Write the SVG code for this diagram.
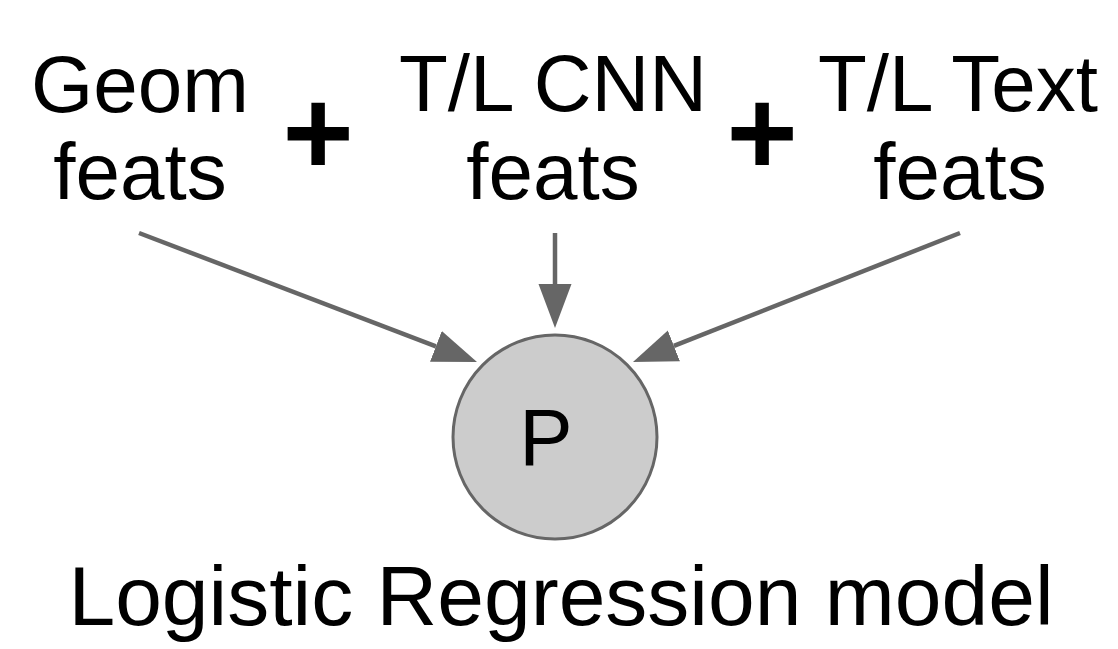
<svg xmlns="http://www.w3.org/2000/svg" width="1118" height="649" viewBox="0 0 1118 649">
  <style>
    .lbl { font-family: "Liberation Sans", Arial, sans-serif; font-size: 80px; fill: #000; text-anchor: middle; }
    .plus { font-family: "Liberation Sans", Arial, sans-serif; font-size: 122px; font-weight: bold; fill: #000; text-anchor: middle; }
    .title { font-family: "Liberation Sans", Arial, sans-serif; font-size: 84px; fill: #000; text-anchor: middle; }
    .edge { stroke: #666666; stroke-width: 4.5; fill: none; marker-end: url(#head); }
  </style>
  <defs>
    <marker id="head" markerUnits="userSpaceOnUse" markerWidth="46" markerHeight="36" viewBox="0 -18 46 36" refX="0" refY="0" orient="auto">
      <path d="M0,-16.5 L44,0 L0,16.5 Z" fill="#666666"/>
    </marker>
  </defs>
  <rect width="1118" height="649" fill="#ffffff"/>

  <g id="geom-feats">
    <text class="lbl" x="140" y="112">Geom</text>
    <text class="lbl" x="140" y="199">feats</text>
  </g>
  <g id="plus-1">
    <text class="plus" x="318" y="175">+</text>
  </g>
  <g id="cnn-feats">
    <text class="lbl" x="553" y="111">T/L CNN</text>
    <text class="lbl" x="553" y="199">feats</text>
  </g>
  <g id="plus-2">
    <text class="plus" x="762" y="175">+</text>
  </g>
  <g id="text-feats">
    <text class="lbl" x="958" y="111">T/L Text</text>
    <text class="lbl" x="960" y="199">feats</text>
  </g>

  <g id="connectors">
    <line class="edge" x1="139" y1="233" x2="435.9" y2="346.3"/>
    <line class="edge" x1="555" y1="233" x2="555" y2="284"/>
    <line class="edge" x1="960" y1="233" x2="673.9" y2="345.9"/>
  </g>

  <g id="model-node">
    <circle cx="555" cy="437" r="102" fill="#cccccc" stroke="#666666" stroke-width="3"/>
    <text class="lbl" x="546" y="465">P</text>
  </g>

  <g id="model-caption">
    <text class="title" x="561" y="625">Logistic Regression model</text>
  </g>
</svg>
